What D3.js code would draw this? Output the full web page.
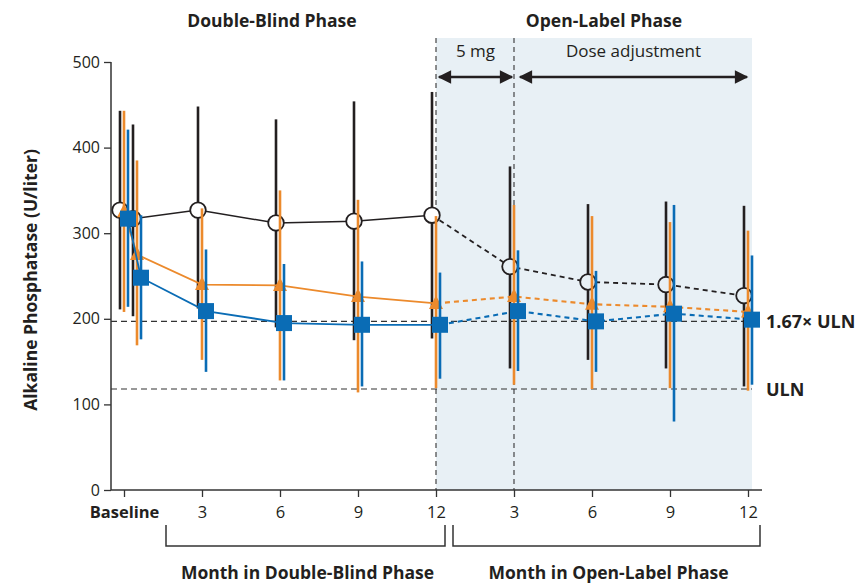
<!DOCTYPE html>
<html>
<head>
<meta charset="utf-8">
<script src="https://cdn.jsdelivr.net/npm/d3@7"></script>
<style>
  html, body { margin: 0; padding: 0; background: #fff; }
  svg { display: block; font-family: "Open Sans", "Noto Sans", sans-serif; }
</style>
</head>
<body>
<svg id="chart" width="862" height="584"></svg>
<script>
// Visit times in months from baseline (0.5 = 2-week visit); 15-24 = open-label months 3-12
const months = [0, 0.5, 3, 6, 9, 12, 15, 18, 21, 24];
const tickMonths = [0, 3, 6, 9, 12, 15, 18, 21, 24];
const tickLabels = ["Baseline", "3", "6", "9", "12", "3", "6", "9", "12"];
const yTicks = [0, 100, 200, 300, 400, 500];

// Placebo group (open circles)
const placeboMean = [327, 317, 327, 312, 314, 321, 261, 243, 240, 227];
const placeboLow  = [211, 203, 212, 190, 175, 177, 142, 152, 142, 121];
const placeboHigh = [443, 427, 448, 433, 454, 465, 378, 334, 337, 332];

// 5-10 mg group (triangles)
const titrMean = [325, 275, 240, 239, 226, 218, 226, 217, 214, 208];
const titrLow  = [208, 169, 152, 128, 114, 119, 123, 118, 119, 116];
const titrHigh = [443, 385, 329, 350, 339, 320, 333, 320, 313, 303];

// 10 mg group (squares)
const tenMean = [317, 248, 209, 195, 193, 193, 209, 197, 206, 199];
const tenLow  = [214, 176, 138, 128, 121, 130, 139, 138, 80, 123];
const tenHigh = [421, 321, 281, 264, 267, 254, 280, 256, 333, 274];

// Reference levels
const ULN = 118;
const ulnMultiple = 1.67;

const ink = "#231f20";
const orange = "#ec8a2c";
const blue = "#0a6cb5";
const shade = "#e8f0f5";

const svg = d3.select("#chart");
const x = d3.scaleLinear().domain([0, 24]).range([124, 748]);
const y = d3.scaleLinear().domain([0, 500]).range([490, 62]);
const axisLeft = 111, axisRight = 762, shadeRight = 752, shadeTop = 38;

// Open-label shaded panel
svg.append("rect")
  .attr("x", x(12)).attr("y", shadeTop)
  .attr("width", shadeRight - x(12)).attr("height", y(0) - shadeTop)
  .attr("fill", shade);

// Phase boundaries (end of double-blind, end of 5 mg period)
[12, 15].forEach(m => {
  svg.append("line")
    .attr("x1", x(m)).attr("x2", x(m))
    .attr("y1", shadeTop).attr("y2", y(0))
    .attr("stroke", "#333").attr("stroke-width", 1.1)
    .attr("stroke-dasharray", "5,4");
});

// Reference lines: ULN and 1.67x ULN
[[ULN, "ULN"], [ULN * ulnMultiple, "1.67\u00d7 ULN"]].forEach(([v, label]) => {
  svg.append("line")
    .attr("x1", axisLeft).attr("x2", shadeRight)
    .attr("y1", y(v)).attr("y2", y(v))
    .attr("stroke", "#333").attr("stroke-width", 1.2)
    .attr("stroke-dasharray", "6,4");
  svg.append("text")
    .attr("x", 766).attr("y", y(v)).attr("dy", "0.38em")
    .attr("font-size", 18).attr("font-weight", "bold").attr("fill", ink)
    .text(label);
});

// Axes
const yAxis = svg.append("g").attr("transform", `translate(${axisLeft},0)`)
  .call(d3.axisLeft(y).tickValues(yTicks).tickSize(7).tickPadding(4));
yAxis.select(".domain").attr("d", `M0,${y(500)}H0V${y(0)}`);
const xAxis = svg.append("g").attr("transform", `translate(0,${y(0)})`)
  .call(d3.axisBottom(x).tickValues(tickMonths).tickSize(7).tickPadding(9)
    .tickFormat((d, i) => tickLabels[i]));
xAxis.select(".domain").attr("d", `M${axisLeft},0H${axisRight}`);
[yAxis, xAxis].forEach(g => {
  g.select(".domain").attr("stroke", "#333").attr("stroke-width", 1.5);
  g.selectAll(".tick line").attr("stroke", "#333").attr("stroke-width", 1.3);
  g.selectAll(".tick text").attr("fill", ink)
    .attr("font-family", "\"Open Sans\", sans-serif");
});
yAxis.selectAll(".tick text").attr("font-size", 16);
xAxis.selectAll(".tick text").attr("font-size", 16.5);
xAxis.selectAll(".tick text").filter((d, i) => i === 0).attr("font-weight", "bold");

// Axis title
svg.append("text")
  .attr("transform", `translate(37,${(y(0) + y(500)) / 2 + 4}) rotate(-90)`)
  .attr("text-anchor", "middle").attr("font-size", 17.5).attr("font-weight", "bold")
  .attr("fill", ink).text("Alkaline Phosphatase (U/liter)");

// Phase headers
svg.append("text").attr("x", 272).attr("y", 27).attr("text-anchor", "middle")
  .attr("font-size", 17.5).attr("font-weight", "bold").attr("fill", ink).text("Double-Blind Phase");
svg.append("text").attr("x", 604).attr("y", 27).attr("text-anchor", "middle")
  .attr("font-size", 17.5).attr("font-weight", "bold").attr("fill", ink).text("Open-Label Phase");

// Dose-period arrows
const defs = svg.append("defs");
["arrowEnd", "arrowStart"].forEach((id, k) => {
  defs.append("marker").attr("id", id)
    .attr("viewBox", "0 0 10 10").attr("refX", k === 0 ? 9 : 1).attr("refY", 5)
    .attr("markerWidth", 6.2).attr("markerHeight", 5).attr("markerUnits", "strokeWidth")
    .attr("orient", "auto")
    .append("path")
    .attr("d", k === 0 ? "M0,0L10,5L0,10Z" : "M10,0L0,5L10,10Z")
    .attr("fill", ink);
});
const arrowY = 77;
[[x(12) + 3, x(15) - 2, "5 mg"], [x(15) + 6, x(24) - 1, "Dose adjustment"]].forEach(([a, b, label]) => {
  svg.append("line")
    .attr("x1", a).attr("x2", b).attr("y1", arrowY).attr("y2", arrowY)
    .attr("stroke", ink).attr("stroke-width", 2.7)
    .attr("marker-start", "url(#arrowStart)").attr("marker-end", "url(#arrowEnd)");
  svg.append("text").attr("x", (a + b) / 2).attr("y", 57).attr("text-anchor", "middle")
    .attr("font-size", 17).attr("fill", ink).text(label);
});

// Month brackets under the x axis
const brackets = [[166, 445, "Month in Double-Blind Phase"], [453, 760, "Month in Open-Label Phase"]];
brackets.forEach(([a, b, label]) => {
  svg.append("path")
    .attr("d", `M${a},525V546H${b}V525`)
    .attr("fill", "none").attr("stroke", "#333").attr("stroke-width", 1.5);
  svg.append("text").attr("x", (a + b) / 2 + 2).attr("y", 579).attr("text-anchor", "middle")
    .attr("font-size", 17.5).attr("font-weight", "bold").attr("fill", ink).text(label);
});

// Series
const series = [
  { mean: placeboMean, low: placeboLow, high: placeboHigh, color: ink, shape: "circle", dx: -4, lw: 1.5 },
  { mean: titrMean, low: titrLow, high: titrHigh, color: orange, shape: "triangle", dx: 0, lw: 1.8 },
  { mean: tenMean, low: tenLow, high: tenHigh, color: blue, shape: "square", dx: 4, lw: 1.8 }
];

series.forEach(s => {
  const pts = months.map((m, i) => ({ m, v: s.mean[i], lo: s.low[i], hi: s.high[i] }));
  const g = svg.append("g");

  // Error bars
  g.selectAll("line.err").data(pts).join("line")
    .attr("class", "err")
    .attr("x1", d => x(d.m) + s.dx).attr("x2", d => x(d.m) + s.dx)
    .attr("y1", d => y(d.hi)).attr("y2", d => y(d.lo))
    .attr("stroke", s.color).attr("stroke-width", 2.6);

  const line = d3.line().x(d => x(d.m) + s.dx).y(d => y(d.v));
  // Double-blind phase: solid
  g.append("path").datum(pts.filter(d => d.m <= 12)).attr("d", line)
    .attr("fill", "none").attr("stroke", s.color).attr("stroke-width", s.lw);
  // Open-label phase: dashed
  g.append("path").datum(pts.filter(d => d.m >= 12)).attr("d", line)
    .attr("fill", "none").attr("stroke", s.color).attr("stroke-width", s.lw + 0.3)
    .attr("stroke-dasharray", "5,4");

  const mk = g.selectAll("g.mk").data(pts).join("g").attr("class", "mk")
    .attr("transform", d => `translate(${x(d.m) + s.dx},${y(d.v)})`);
  if (s.shape === "circle") {
    mk.append("circle").attr("r", 7.8)
      .attr("fill", d => d.m > 12 ? shade : "#fff")
      .attr("stroke", ink).attr("stroke-width", 1.8);
  } else if (s.shape === "triangle") {
    mk.append("path").attr("d", "M0,-8L7,5.5L-7,5.5Z").attr("fill", orange);
  } else {
    mk.append("rect").attr("x", -8).attr("y", -8).attr("width", 16).attr("height", 16)
      .attr("fill", blue);
  }
});
</script>
</body>
</html>
